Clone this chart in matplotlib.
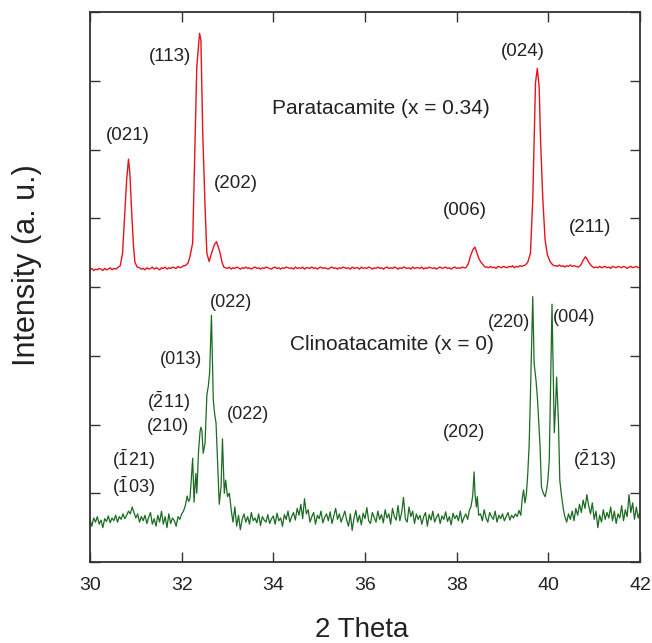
import numpy as np
import matplotlib
matplotlib.use("Agg")
import matplotlib.pyplot as plt

plt.rcParams["font.family"] = ["Liberation Sans", "DejaVu Sans"]
plt.rcParams["mathtext.fontset"] = "custom"
plt.rcParams["mathtext.rm"] = "Liberation Sans"
plt.rcParams["mathtext.it"] = "Liberation Sans:italic"

RED, GREEN, AX = "#e8121c", "#1b6b22", "#333333"
STEP = 0.04          # scan step of the flat stretches
RED_OFFSET = 400     # vertical shift of the paratacamite pattern

# ── paratacamite (x = 0.34): flat stretches on the scan grid + peak regions ──
RED_A = (30.00, [25, 27, 24, 26, 25, 27, 26, 24, 27, 25, 26, 28, 25, 27, 26, 28])
RED_B = (31.08, [28, 26, 27, 25, 28, 26, 27, 29, 26, 28, 27, 25, 28, 27, 29, 26, 28, 27, 29, 28,
                 27, 30, 28, 29, 31])
RED_C = (32.96, [28, 27, 29, 26, 28, 27, 29, 28, 26, 28, 27, 29, 27, 28, 26, 28, 29, 27, 28, 26,
                 28, 27, 29, 28, 27, 26, 28, 29, 27, 28, 26, 28, 27, 29, 28, 27, 28, 26, 29, 27,
                 28, 27, 29, 26, 28, 28, 27, 29, 27, 28, 26, 28, 29, 27, 28, 27, 26, 28, 29, 27,
                 28, 26, 28, 27, 29, 28, 27, 28, 26, 29, 27, 28, 28, 26, 29, 27, 28, 27, 29, 28,
                 26, 28, 27, 29, 27, 28, 26, 28, 29, 27, 28, 27, 29, 28, 26, 28, 27, 29, 28, 27,
                 28, 26, 29, 27, 28, 28, 27, 29, 26, 28, 27, 29, 28, 27, 28, 26, 28, 29, 27, 28,
                 29, 27, 28, 26, 28, 29, 27, 28, 27, 29, 28])
RED_D = (38.66, [29, 28, 30, 28, 29, 27, 30, 29, 28, 30, 29, 28, 30, 29, 31, 28, 30, 29, 31, 30, 31])
RED_E = (40.16, [31, 30, 32, 30, 31, 29, 31, 30, 32, 30, 31, 30])
RED_F = (41.04, [29, 28, 30, 28, 29, 30, 28, 29, 27, 30, 29, 28, 30, 29, 28, 30, 29, 27, 29, 30,
                 28, 29, 30, 28, 29])
RED_PK_X = [30.66, 30.71, 30.76, 30.80, 30.84, 30.87, 30.91, 30.95, 30.98, 31.03,
            32.08, 32.14, 32.18, 32.24, 32.28, 32.33, 32.39, 32.42, 32.46, 32.51, 32.55, 32.60,
            32.65, 32.71, 32.76, 32.80, 32.84, 32.88, 32.92,
            38.20, 38.25, 38.31, 38.36, 38.40, 38.44, 38.48, 38.53, 38.58, 38.62,
            39.50, 39.55, 39.61, 39.66, 39.69, 39.72, 39.76, 39.80, 39.83, 39.88, 39.93, 39.98,
            40.03, 40.07, 40.12,
            40.66, 40.71, 40.76, 40.81, 40.85, 40.89, 40.94, 40.99]
RED_PK_Y = [31, 49, 108, 156, 186, 165, 108, 58, 36, 29,
            31, 35, 44, 64, 175, 320, 369, 359, 224, 117, 49, 37,
            49, 61, 66, 58, 49, 36, 29,
            28, 33, 47, 55, 58, 50, 42, 36, 32, 29,
            32, 36, 49, 127, 214, 297, 318, 291, 214, 127, 68, 47,
            38, 34, 31,
            29, 32, 39, 44, 40, 35, 31, 28]

# ── clinoatacamite (x = 0) ──
GRN_A = (30.00, [62, 52, 64, 58, 66, 55, 61, 50, 63, 59, 67, 57, 64, 60, 68, 58, 66, 62, 70, 63,
                 68, 74, 70, 80, 72, 64, 70, 58, 66, 60, 68, 56, 65, 72, 55, 63, 52, 68, 58, 74,
                 55, 66, 50, 70, 56, 64, 60, 52, 66, 62, 70, 74, 82])
GRN_B = (33.20, [52, 68, 47, 62, 70, 58, 66, 55, 72, 60, 64, 57, 70, 53, 66, 61, 58, 69, 56, 63,
                 67, 55, 71, 60, 64, 52, 69, 62, 74, 58, 66, 72, 61, 78, 68, 84, 63, 92, 70, 76,
                 58, 66, 72, 55, 68, 63, 74, 57, 65, 70, 60, 73, 56, 67, 78, 62, 70, 58, 66, 74,
                 61, 52, 70, 46, 64, 75, 58, 68, 54, 71, 63, 79, 60, 56, 72, 65, 58, 74, 62, 69,
                 57, 76, 64, 70, 55, 78, 66, 61, 82, 60, 72, 94, 63, 58, 80, 66, 74, 56, 70, 62,
                 68, 55, 66, 72, 52, 69, 61, 74, 58, 65, 70, 56, 67, 62, 73, 59, 66, 54, 71, 63,
                 68, 60, 74, 57, 65, 70, 62, 76])
GRN_C = (38.52, [70, 60, 76, 64, 58, 72, 66, 62, 74, 58, 68, 63, 70, 60, 66, 72, 61, 68, 64, 70,
                 66, 75, 68])
GRN_D = (40.36, [66, 58, 70, 62, 74, 60, 78, 68, 84, 72, 90, 78, 98, 82, 70, 86, 62, 74, 50, 68,
                 58, 76, 62, 72, 64, 80, 60, 74, 56, 70, 64, 82, 60, 76, 66, 98, 72, 86, 62, 80,
                 64, 74])
GRN_PK_X = [32.12, 32.15, 32.18, 32.21, 32.24, 32.27, 32.29, 32.31, 32.33, 32.37, 32.40, 32.42,
            32.44, 32.47, 32.51, 32.55, 32.58, 32.61, 32.65, 32.69, 32.72, 32.75, 32.78, 32.82,
            32.86, 32.89, 32.93, 32.96, 33.00, 33.04, 33.09, 33.12, 33.16,
            38.31, 38.35, 38.38, 38.40, 38.43, 38.45, 38.48,
            39.43, 39.46, 39.49, 39.52, 39.55, 39.58, 39.60, 39.63, 39.66, 39.69, 39.73, 39.76,
            39.79, 39.82, 39.85, 39.89, 39.93, 39.96, 39.99, 40.02, 40.05, 40.08, 40.11, 40.13,
            40.16, 40.18, 40.22, 40.25, 40.29, 40.33]
GRN_PK_Y = [96, 88, 92, 120, 151, 87, 110, 129, 100, 163, 189, 196,
            192, 158, 173, 243, 255, 275, 359, 236, 215, 202, 150, 84,
            110, 179, 100, 119, 95, 100, 71, 58, 80,
            80, 96, 131, 100, 80, 95, 68,
            92, 105, 86, 98, 127, 168, 217, 300, 386, 289, 265, 240,
            205, 167, 109, 100, 95, 104, 119, 148, 260, 375, 265, 188,
            230, 269, 206, 119, 95, 76]

# peak labels (2θ, intensity as plotted)
RED_LBL = ["(021)", "(113)", "(202)", "(006)", "(024)", "(211)"]
RED_LBL_X = [30.83, 31.75, 33.18, 38.17, 39.45, 40.91]
RED_LBL_Y = [620, 735, 550, 511, 742, 487]
GRN_LBL = ["(022)", "(013)", r"$(\bar{2}11)$", "(210)", "(022)", r"$(\bar{1}21)$", r"$(\bar{1}03)$",
           "(220)", "(004)", "(202)", r"$(\bar{2}13)$"]
GRN_LBL_X = [33.08, 31.99, 31.71, 31.71, 33.44, 30.95, 30.95, 39.14, 40.56, 38.15, 41.00]
GRN_LBL_Y = [377, 295, 233, 197, 215, 148, 109, 348, 356, 188, 148]
NAMES = [("Paratacamite (x = 0.34)", 36.35, 659), ("Clinoatacamite (x = 0)", 36.58, 316)]


def assemble(segs, pk_x, pk_y):
    xs, ys = [np.asarray(pk_x, float)], [np.asarray(pk_y, float)]
    for start, vals in segs:
        xs.append(start + STEP * np.arange(len(vals)))
        ys.append(np.asarray(vals, float))
    x, y = np.concatenate(xs), np.concatenate(ys)
    o = np.argsort(x)
    return x[o], y[o]


rx, ry = assemble([RED_A, RED_B, RED_C, RED_D, RED_E, RED_F], RED_PK_X, RED_PK_Y)
gx, gy = assemble([GRN_A, GRN_B, GRN_C, GRN_D], GRN_PK_X, GRN_PK_Y)

fig = plt.figure(figsize=(6.52, 6.43), dpi=100, facecolor="white")
ax = fig.add_axes([90/652, 81/643, 550/652, 550/643])
ax.plot(rx, ry + RED_OFFSET, color=RED, lw=1.0)
ax.plot(gx, gy, color=GREEN, lw=0.9)

ax.set_xlim(30, 42); ax.set_ylim(0, 800)
ax.set_xticks(np.arange(30, 43, 2))
ax.set_yticks(np.arange(0, 801, 100)); ax.set_yticklabels([])
ax.tick_params(direction="in", length=7, width=1, color=AX, top=True, right=True,
               labelsize=14, pad=11, labelcolor="#222")
for sp in ax.spines.values():
    sp.set_color(AX); sp.set_linewidth(1.3)

for t, x, y in zip(RED_LBL, RED_LBL_X, RED_LBL_Y):
    ax.text(x, y, t, fontsize=13.5, ha="center", va="center", color="#222")
for t, x, y in zip(GRN_LBL, GRN_LBL_X, GRN_LBL_Y):
    ax.text(x, y, t, fontsize=13, ha="center", va="center", color="#222")
for t, x, y in NAMES:
    ax.text(x, y, t, fontsize=15, ha="center", va="center", color="#222")

fig.text(362/652, 1 - 630/643, "2 Theta", fontsize=20, ha="center", va="center", color="#222")
fig.text(27/652, 1 - 265/643, "Intensity (a. u.)", fontsize=22, rotation=90,
         ha="center", va="center", color="#222")

fig.savefig("out.png", dpi=100, facecolor="white")
